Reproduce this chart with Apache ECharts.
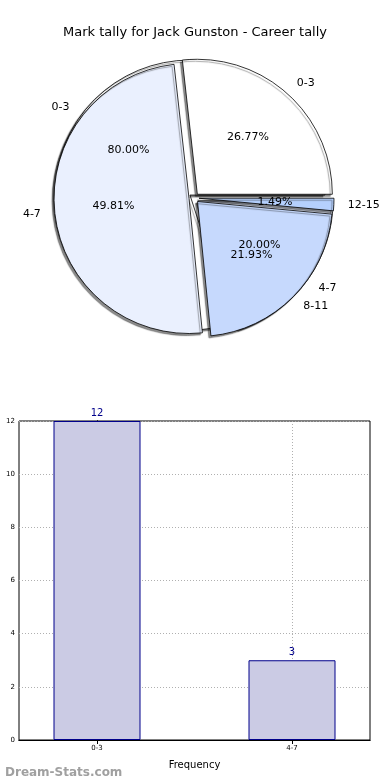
<!DOCTYPE html>
<html>
<head>
<meta charset="utf-8">
<script src="https://cdn.jsdelivr.net/npm/echarts@6/dist/echarts.min.js"></script>
<style>
html,body{margin:0;padding:0;background:#fff;}
#chart{width:390px;height:780px;}
</style>
</head>
<body>
<div id="chart"></div>
<script>
// ---- data ----
var titleText = 'Mark tally for Jack Gunston - Career tally';
var pieACategories = ['0-3', '4-7', '8-11', '12-15'];
var pieAValues = [26.77, 49.81, 21.93, 1.49];
var pieAColors = ['#ffffff', '#eaf0fe', '#c6d9fd', '#b5d0fd'];
var pieBCategories = ['0-3', '4-7'];
var pieBValues = [12, 3];
var pieBColors = ['#ffffff', '#eaf0fe'];
var barCategories = ['0-3', '4-7'];
var barValues = [12, 3];
var yTicks = [0, 2, 4, 6, 8, 10, 12];

var FONT = 'DejaVu Sans';
var CX = 194, CY = 198, R = 135;

function pieData(cats, vals, cols, sel) {
  return cats.map(function (c, i) {
    return { name: c, value: vals[i], selected: sel, itemStyle: { color: cols[i] } };
  });
}

function mainPie(cats, vals, cols, z) {
  return {
    type: 'pie', z: z, center: [CX, CY], radius: R,
    startAngle: 0, clockwise: false, animation: false,
    selectedMode: 'multiple', selectedOffset: 5,
    avoidLabelOverlap: false, silent: true,
    labelLayout: { hideOverlap: false },
    itemStyle: { borderColor: '#000', borderWidth: 0.8,
      shadowColor: 'rgba(0,0,0,0.45)', shadowBlur: 1, shadowOffsetX: -2, shadowOffsetY: 2 },
    label: { show: true, position: 'outside', distanceToLabelLine: 0,
      fontFamily: FONT, fontSize: 11, color: '#000', formatter: '{b}' },
    labelLine: { show: false, length: 14, length2: 0 },
    emphasis: { disabled: true },
    data: pieData(cats, vals, cols, true)
  };
}
function pctPie(cats, vals, z) {
  return {
    type: 'pie', z: z, center: [CX, CY], radius: 156,
    startAngle: 0, clockwise: false, animation: false,
    avoidLabelOverlap: false, silent: true,
    labelLayout: { hideOverlap: false },
    itemStyle: { color: 'rgba(0,0,0,0)', borderWidth: 0 },
    label: { show: true, position: 'inside', fontFamily: FONT, fontSize: 11, color: '#000',
      formatter: function (p) { return p.percent.toFixed(2) + '%'; } },
    labelLine: { show: false },
    emphasis: { disabled: true },
    data: cats.map(function (c, i) { return { name: c, value: vals[i] }; })
  };
}

var chart = echarts.init(document.getElementById('chart'), null, { renderer: 'canvas' });
var option = {
  backgroundColor: '#fff',
  animation: false,
  title: [
    { text: titleText, left: 'center', top: 21,
      textStyle: { fontFamily: FONT, fontSize: 13, fontWeight: 'normal', color: '#000' } },
    { text: 'Dream-Stats.com', left: 0, top: 762,
      textStyle: { fontFamily: FONT, fontSize: 12, fontWeight: 'bold', color: '#a0a0a0' } }
  ],
  grid: { left: 19, right: 20, top: 421, bottom: 40, outerBoundsMode: 'none', containLabel: false,
    show: true, borderColor: '#000', borderWidth: 1, backgroundColor: 'transparent' },
  xAxis: [
    { type: 'value', min: -0.4, max: 1.4, position: 'bottom',
      name: 'Frequency', nameLocation: 'middle', nameGap: 20,
      nameTextStyle: { fontFamily: FONT, fontSize: 10, color: '#000' },
      axisLine: { show: true, lineStyle: { color: '#000' } },
      axisTick: { show: true, inside: true, length: 4, customValues: [0, 1], lineStyle: { color: '#000' } },
      axisLabel: { show: true, customValues: [0, 1], fontFamily: FONT, fontSize: 7, color: '#000', margin: 5,
        formatter: function (v) { return barCategories[Math.round(v)]; } },
      splitLine: { show: true, lineStyle: { color: '#b0b0b0', type: [1, 2], width: 1 } } },
    { type: 'value', min: -0.4, max: 1.4, position: 'top',
      axisLine: { show: true, lineStyle: { color: '#000' } },
      axisTick: { show: true, inside: true, length: 4, customValues: [0, 1], lineStyle: { color: '#000' } },
      axisLabel: { show: false }, splitLine: { show: false } }
  ],
  yAxis: [
    { type: 'value', min: yTicks[0], max: yTicks[yTicks.length - 1], interval: 2, position: 'left',
      name: 'Stat Intervals', nameLocation: 'middle', nameGap: 21, nameRotate: 90,
      nameTextStyle: { fontFamily: FONT, fontSize: 10, color: '#000' },
      axisLine: { show: true, lineStyle: { color: '#000' } },
      axisTick: { show: true, inside: true, length: 4, lineStyle: { color: '#000' } },
      axisLabel: { fontFamily: FONT, fontSize: 7, color: '#000', margin: 4 },
      splitLine: { show: true, lineStyle: { color: '#b0b0b0', type: [1, 2], width: 1 } } },
    { type: 'value', min: yTicks[0], max: yTicks[yTicks.length - 1], interval: 2, position: 'right',
      axisLine: { show: true, lineStyle: { color: '#000' } },
      axisTick: { show: true, inside: true, length: 4, lineStyle: { color: '#000' } },
      axisLabel: { show: false }, splitLine: { show: false } }
  ],
  series: [
    mainPie(pieBCategories, pieBValues, pieBColors, 1),
    mainPie(pieACategories, pieAValues, pieAColors, 2),
    pctPie(pieBCategories, pieBValues, 3),
    pctPie(pieACategories, pieAValues, 4),
    { type: 'bar', xAxisIndex: 0, yAxisIndex: 0, barWidth: 87, z: 5,
      data: barValues.map(function (v, i) { return [i, v]; }),
      itemStyle: { color: '#cbcbe4', borderColor: '#00008b', borderWidth: 1 },
      label: { show: true, position: 'top', distance: 3, fontFamily: FONT, fontSize: 10, color: '#00008b' },
      emphasis: { disabled: true }, silent: true }
  ]
};
chart.setOption(option);
</script>
</body>
</html>
